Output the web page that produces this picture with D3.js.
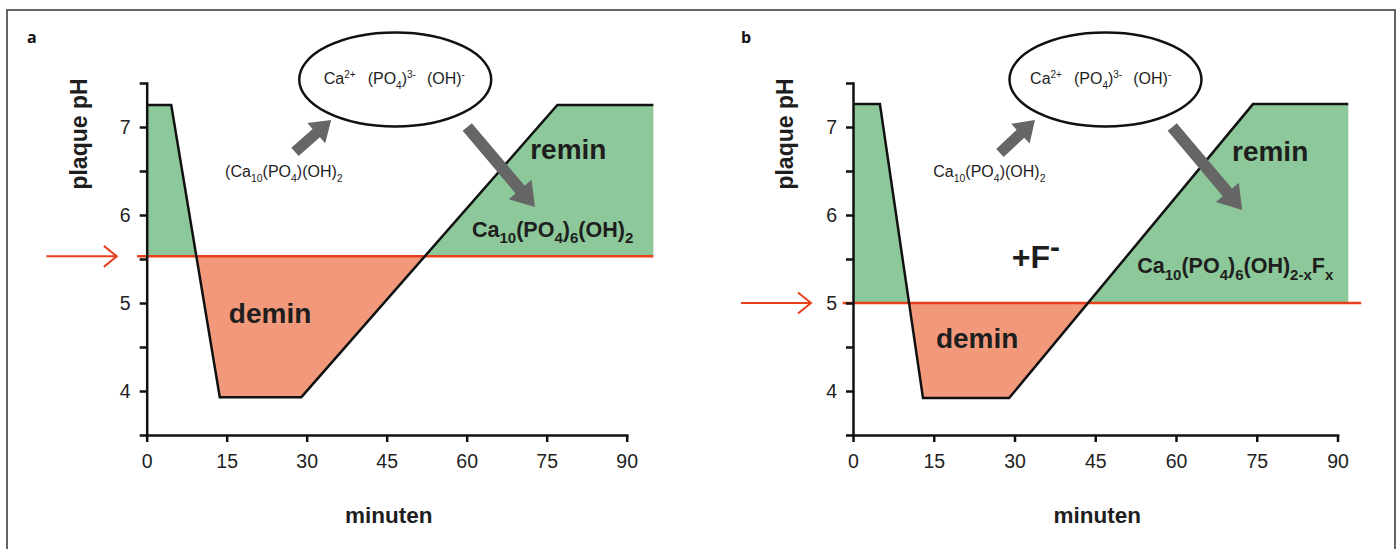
<!DOCTYPE html>
<html>
<head>
<meta charset="utf-8">
<script src="https://cdn.jsdelivr.net/npm/d3@7"></script>
<style>
  html, body { margin: 0; padding: 0; background: #fff; }
  svg { display: block; font-family: "Liberation Sans", Arial, Helvetica, sans-serif; }
  .axis path, .axis line { stroke: #111; stroke-width: 2.5; }
  .axis text { font-size: 19.5px; fill: #222; font-family: "Liberation Sans", Arial, sans-serif; }
  .rich { white-space: pre; fill: #1e1e1e; }
</style>
</head>
<body>
<svg id="chart" width="1399" height="549"></svg>
<script>
// ---- Data ----
var MINUTE_TICKS = [0, 15, 30, 45, 60, 75, 90];
var PH_TICKS = [3.5, 4, 4.5, 5, 5.5, 6, 6.5, 7, 7.5];
var PH_LABELS = [4, 5, 6, 7];

// panel a: plaque pH curve without fluoride
var TIME_A = [0, 4.6, 13.7, 29, 77, 95];
var PH_A = [7.25, 7.25, 3.93, 3.93, 7.25, 7.25];
var CRITICAL_A = 5.53;

// panel b: same challenge with fluoride present
var TIME_B = [0, 5, 13, 29, 74.3, 92];
var PH_B = [7.26, 7.26, 3.92, 3.92, 7.26, 7.26];
var CRITICAL_B = 5.0;

// rich text pieces: [text, kind, dx]
var IONS = [['Ca'], ['2+', 'sup'], ['(PO', null, 12], ['4', 'sub'], [')'], ['3-', 'sup'], ['(OH)', null, 11], ['-', 'sup']];
var MINERAL_A = [['(Ca'], ['10', 'sub'], ['(PO'], ['4', 'sub'], [')(OH)'], ['2', 'sub']];
var MINERAL_B = [['Ca'], ['10', 'sub'], ['(PO'], ['4', 'sub'], [')(OH)'], ['2', 'sub']];
var PRODUCT_A = [['Ca'], ['10', 'sub'], ['(PO'], ['4', 'sub'], [')'], ['6', 'sub'], ['(OH)'], ['2', 'sub']];
var PRODUCT_B = [['Ca'], ['10', 'sub'], ['(PO'], ['4', 'sub'], [')'], ['6', 'sub'], ['(OH)'], ['2-x', 'sub'], ['F'], ['x', 'sub']];
var FLUORIDE = [['+F'], ['-', 'sup']];

var GREEN = '#8cc899';
var SALMON = '#f2997b';
var RED = '#e8401c';
var GREY = '#666666';

var svg = d3.select('#chart');
var defs = svg.append('defs');

// outer frame
svg.append('path')
  .attr('d', 'M7,549 V10 H1395 V549')
  .attr('fill', 'none')
  .attr('stroke', '#333')
  .attr('stroke-width', 1.5);

/**
 * Append text with sub/superscripts built from segments.
 */
function richText(g, x, y, segs, size, weight, subSize) {
  var text = g.append('text')
    .attr('class', 'rich')
    .attr('x', x)
    .attr('y', y)
    .style('font-size', size + 'px')
    .style('font-weight', weight);
  var shift = 0;
  segs.forEach(function (s) {
    var kind = s[1];
    var target = kind === 'sub' ? size * 0.3 : (kind === 'sup' ? -size * 0.42 : 0);
    var t = text.append('tspan')
      .attr('dy', target - shift)
      .text(s[0]);
    if (s[2]) t.attr('dx', s[2]);
    if (kind) t.style('font-size', subSize + 'px');
    shift = target;
  });
  return text;
}

/**
 * Thick grey block arrow from tail to tip.
 */
function blockArrow(g, x1, y1, x2, y2, w, hw, hl) {
  var len = Math.hypot(x2 - x1, y2 - y1);
  var ux = (x2 - x1) / len, uy = (y2 - y1) / len;
  var nx = -uy, ny = ux;
  var bx = x2 - ux * hl, by = y2 - uy * hl;
  var pts = [
    [x1 + nx * w / 2, y1 + ny * w / 2],
    [bx + nx * w / 2, by + ny * w / 2],
    [bx + nx * hw / 2, by + ny * hw / 2],
    [x2, y2],
    [bx - nx * hw / 2, by - ny * hw / 2],
    [bx - nx * w / 2, by - ny * w / 2],
    [x1 - nx * w / 2, y1 - ny * w / 2]
  ];
  g.append('path')
    .attr('d', 'M' + pts.join('L') + 'Z')
    .attr('fill', GREY);
}

var PANELS = [
  {
    id: 'a', left: 146.7, right: 626.7, time: TIME_A, ph: PH_A, critical: CRITICAL_A,
    red: [-1.8, 95], margin: [-18.8, -5.6], labelX: 27,
    ellipse: [46.6, 7.54], ions: [33.2, 7.483],
    mineral: [14.7, 6.43, MINERAL_A], up: [27.8, 6.716, 34.6, 7.08], down: [60.1, 7.0, 72.8, 6.09],
    remin: [71.9, 6.636], product: [61.0, 5.75, PRODUCT_A], demin: [15.4, 4.776]
  },
  {
    id: 'b', left: 853, right: 1337.5, time: TIME_B, ph: PH_B, critical: CRITICAL_B,
    red: [-1.9, 94.4], margin: [-20.8, -7.8], labelX: 741,
    ellipse: [46.9, 7.54], ions: [32.9, 7.483],
    mineral: [14.9, 6.43, MINERAL_B], up: [27.3, 6.705, 33.8, 7.08], down: [59.3, 7.0, 72.3, 6.057],
    remin: [70.4, 6.614], product: [52.8, 5.34, PRODUCT_B], demin: [15.4, 4.49],
    fluoride: [29.5, 5.40]
  }
];

function drawPanel(p) {
  var x = d3.scaleLinear().domain([0, 90]).range([p.left, p.right]);
  var y = d3.scaleLinear().domain([3.5, 7.5]).range([435, 83]);
  var g = svg.append('g').attr('class', 'panel-' + p.id);
  var pts = p.time.map(function (t, i) { return [t, p.ph[i]]; });
  var yc = y(p.critical);

  // clip regions above / below the critical pH
  defs.append('clipPath').attr('id', 'above-' + p.id)
    .append('rect').attr('x', 0).attr('y', 0).attr('width', 1399).attr('height', yc);
  defs.append('clipPath').attr('id', 'below-' + p.id)
    .append('rect').attr('x', 0).attr('y', yc).attr('width', 1399).attr('height', 549 - yc);

  var area = d3.area()
    .x(function (d) { return x(d[0]); })
    .y0(yc)
    .y1(function (d) { return y(d[1]); });

  g.append('path').datum(pts).attr('d', area)
    .attr('fill', GREEN).attr('clip-path', 'url(#above-' + p.id + ')');
  g.append('path').datum(pts).attr('d', area)
    .attr('fill', SALMON).attr('clip-path', 'url(#below-' + p.id + ')');

  // critical pH line and margin arrow
  g.append('line')
    .attr('x1', x(p.red[0])).attr('x2', x(p.red[1]))
    .attr('y1', yc).attr('y2', yc)
    .attr('stroke', RED).attr('stroke-width', 2.5);
  var ax0 = x(p.margin[0]), ax1 = x(p.margin[1]);
  g.append('path')
    .attr('d', 'M' + ax0 + ',' + yc + 'H' + ax1 +
      'M' + (ax1 - 13) + ',' + (yc - 10.5) + 'L' + ax1 + ',' + yc + 'L' + (ax1 - 13) + ',' + (yc + 10.5))
    .attr('fill', 'none').attr('stroke', RED).attr('stroke-width', 2);

  // pH curve
  g.append('path').datum(pts)
    .attr('d', d3.line().x(function (d) { return x(d[0]); }).y(function (d) { return y(d[1]); }))
    .attr('fill', 'none').attr('stroke', '#111').attr('stroke-width', 2.5);

  // axes
  g.append('g').attr('class', 'axis')
    .attr('transform', 'translate(' + p.left + ',0)')
    .call(d3.axisLeft(y).tickValues(PH_TICKS).tickSize(7).tickSizeOuter(0).tickPadding(9)
      .tickFormat(function (d) { return PH_LABELS.indexOf(d) >= 0 ? d : ''; }));
  g.append('g').attr('class', 'axis')
    .attr('transform', 'translate(0,435)')
    .call(d3.axisBottom(x).tickValues(MINUTE_TICKS).tickSize(7).tickSizeOuter(0).tickPadding(12));
  g.selectAll('.axis .domain').attr('stroke-linecap', 'square');

  // axis titles
  g.append('text')
    .attr('transform', 'translate(' + (p.left - 60) + ',134) rotate(-90)')
    .attr('text-anchor', 'middle')
    .style('font-size', '23px').style('font-weight', 'bold').style('fill', '#1e1e1e')
    .text('plaque pH');
  g.append('text')
    .attr('x', (p.left + p.right) / 2 + 2).attr('y', 523)
    .attr('text-anchor', 'middle')
    .style('font-size', '22.5px').style('font-weight', 'bold').style('fill', '#1e1e1e')
    .text('minuten');

  // panel letter
  g.append('text')
    .attr('x', p.labelX).attr('y', 43)
    .style('font-family', '"Open Sans", sans-serif')
    .style('font-size', '16px').style('font-weight', 'bold').style('fill', '#111')
    .text(p.id);

  // solution ellipse with ions
  g.append('ellipse')
    .attr('cx', x(p.ellipse[0])).attr('cy', y(p.ellipse[1]))
    .attr('rx', 96).attr('ry', 47)
    .attr('fill', 'none').attr('stroke', '#111').attr('stroke-width', 2.5);
  richText(g, x(p.ions[0]), y(p.ions[1]), IONS, 16, 'normal', 10);

  // dissolution / precipitation
  richText(g, x(p.mineral[0]), y(p.mineral[1]), p.mineral[2], 16, 'normal', 10.5);
  blockArrow(g, x(p.up[0]), y(p.up[1]), x(p.up[2]), y(p.up[3]), 11, 27, 20);
  blockArrow(g, x(p.down[0]), y(p.down[1]), x(p.down[2]), y(p.down[3]), 12, 30, 23);
  richText(g, x(p.product[0]), y(p.product[1]), p.product[2], 21.5, 'bold', 15);

  richText(g, x(p.remin[0]), y(p.remin[1]), [['remin']], 28, 'bold', 20);
  richText(g, x(p.demin[0]), y(p.demin[1]), [['demin']], 28, 'bold', 20);
  if (p.fluoride) {
    var f = richText(g, x(p.fluoride[0]), y(p.fluoride[1]), FLUORIDE, 32, 'bold', 30);
    f.select('tspan:last-child').attr('dy', -11);
  }
}

PANELS.forEach(drawPanel);
</script>
</body>
</html>
